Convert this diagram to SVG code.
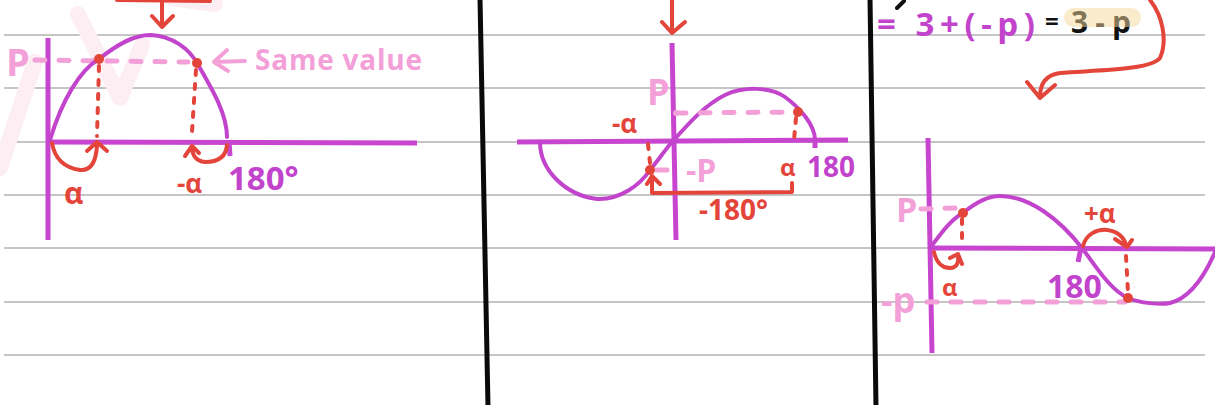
<svg xmlns="http://www.w3.org/2000/svg" width="1215" height="405" viewBox="0 0 1215 405">
<style>
.rule{stroke:#b3b3b3;stroke-width:1.5;fill:none}
.div{stroke:#0a0a0a;stroke-width:5;fill:none;stroke-linecap:round}
.ax{stroke:#c846cf;stroke-width:5;fill:none;stroke-linecap:butt}
.cv{stroke:#c244cc;stroke-width:4;fill:none;stroke-linecap:round;stroke-linejoin:round}
.red{stroke:#e4453a;stroke-width:4;fill:none;stroke-linecap:round;stroke-linejoin:round}
.rdot{stroke:#e4453a;stroke-width:4;fill:none;stroke-linecap:round;stroke-dasharray:5 9}
.pdash{stroke:#f4a0d8;stroke-width:5;fill:none;stroke-linecap:round;stroke-dasharray:10 14}
.pk{stroke:#f4a0d8;stroke-width:4;fill:none;stroke-linecap:round;stroke-linejoin:round}
.dot{fill:#e4453a}
text{font-family:"Open Sans","Liberation Sans",sans-serif;font-weight:700}
.tp{fill:#f4a0d8}
.tr{fill:#e4453a}
.tv{fill:#c244cc}
.tk{fill:#111111}
</style>

<g id="paper">
<path class="rule" d="M4 35H1205M4 88H1205M4 142H1205M4 195H1205M4 248H1205M4 302H1205M4 355H1205"/>
</g>

<g id="watermark">
<path d="M0 168L35 62M78 14L120 98L142 45M172 -2L215 4" stroke="#fdeef3" stroke-width="16" fill="none" stroke-linecap="round" stroke-linejoin="round"/>
</g>

<g id="dividers">
<path class="div" d="M480 -2L488 407"/>
<path class="div" d="M870 -2L876 407"/>
</g>

<g id="panel1">
<path class="red" d="M117 0L210 1" stroke-width="6"/>
<path class="red" d="M162 0L162 27M152 16L162 27L173 16"/>
<path class="ax" d="M48 38L48 240"/>
<path class="ax" d="M48 142L417 143"/>
<path class="ax" d="M229 140L230 156" stroke-width="4"/>
<path class="pdash" d="M35 60L188 62"/>
<path class="cv" d="M50 140C62 100 80 70 99 59C118 44 134 35 150 35C173 36 189 49 197 63C214 92 227 115 227 137"/>
<path class="rdot" d="M99 66L97 136"/>
<path class="rdot" d="M196 70L192 132"/>
<circle class="dot" cx="99" cy="59" r="5"/>
<circle class="dot" cx="197" cy="63" r="5"/>
<path class="red" d="M52 143C55 160 66 168 80 170C92 171 96 160 97 146M87 151L97 142L107 151"/>
<path class="red" d="M227 145C226 158 216 162 205 162C196 161 192 155 192 147M185 156L192 146L199 153"/>
<path class="pk" d="M245 61L214 62M227 50L214 62L228 71"/>
<text class="tp" x="6" y="76" font-size="38">P</text>
<text class="tp" x="255" y="70" font-size="28" textLength="167" lengthAdjust="spacing">Same value</text>
<text class="tr" x="64" y="204" font-size="30">α</text>
<text class="tr" x="177" y="193" font-size="26">-α</text>
<text class="tv" x="228" y="190" font-size="33">180°</text>
</g>

<g id="panel2">
<path class="red" d="M672 0L672 33M662 22L672 33L685 22"/>
<path class="ax" d="M672 43L676 240"/>
<path class="ax" d="M517 142L848 140"/>
<path class="ax" d="M815 138L815 148" stroke-width="4"/>
<path class="cv" d="M540 142C540 170 565 195 597 199C620 200 640 185 650 170C660 158 665 150 672 142C690 122 705 105 725 95C742 87 770 86 785 97C800 108 815 125 815 140"/>
<path class="pdash" d="M676 113L798 112"/>
<circle cx="676" cy="113" r="3" fill="#f4a0d8"/>
<path class="pdash" d="M657 170L672 170" stroke-dasharray="6 6"/>
<path class="rdot" d="M796 118L794 140"/>
<path class="rdot" d="M648 144L650 163"/>
<circle class="dot" cx="798" cy="112" r="5"/>
<circle class="dot" cx="650" cy="170" r="5"/>
<path class="red" d="M647 184L652 176L660 184M652 180L652 193L792 192L792 183"/>
<text class="tp" x="647" y="105" font-size="36">P</text>
<text class="tr" x="612" y="133" font-size="26">-α</text>
<text class="tp" x="686" y="182" font-size="32">-P</text>
<text class="tr" x="780" y="176" font-size="24">α</text>
<text class="tv" x="807" y="177" font-size="28">180</text>
<text class="tr" x="699" y="220" font-size="28">-180°</text>
</g>

<g id="panel3">
<path d="M897 8L904 1" stroke="#111" stroke-width="4" stroke-linecap="round"/>
<text class="tv" x="877" y="36" font-size="33" textLength="158" lengthAdjust="spacing">= 3+(-p)</text>
<text class="tk" x="1045" y="30" font-size="24">=</text>
<text class="tk" x="1071" y="33" font-size="30" textLength="60" lengthAdjust="spacing">3-p</text>
<rect x="1064" y="8" width="77" height="19" rx="9.5" fill="#f5d79c" opacity="0.5"/>
<path class="red" d="M1150 0C1162 15 1168 40 1160 58C1150 70 1100 70 1060 73C1045 75 1040 85 1040 97M1027 82L1040 98L1055 85"/>
<path class="ax" d="M928 138L932 353"/>
<path class="ax" d="M930 248L1215 249"/>
<path class="ax" d="M1081 248L1078 262" stroke-width="4"/>
<path class="cv" d="M930 248C940 235 950 220 963 213C975 203 988 196 1000 196C1030 196 1060 220 1082 248C1095 265 1110 290 1128 298C1140 303 1160 305 1170 303C1190 298 1205 275 1215 252"/>
<path class="pdash" d="M921 209L955 208" stroke-dasharray="8 8"/>
<path class="pdash" d="M927 302L1125 302" stroke-dasharray="9 24"/>
<path class="rdot" d="M962 219L962 245" stroke-dasharray="3 5"/>
<path class="rdot" d="M1126 256L1128 292" stroke-dasharray="7 8"/>
<circle class="dot" cx="963" cy="213" r="5"/>
<circle class="dot" cx="1128" cy="298" r="5"/>
<path class="red" d="M934 252C936 262 942 268 950 268C957 268 959 262 958 256M950 258L958 254L962 264"/>
<path class="red" d="M1083 246C1086 234 1097 229 1107 230C1117 231 1124 237 1126 245M1115 239L1127 247L1132 240"/>
<text class="tp" x="896" y="222" font-size="34">P</text>
<text class="tp" x="881" y="313" font-size="36">-p</text>
<text class="tr" x="942" y="296" font-size="24">α</text>
<text class="tv" x="1047" y="298" font-size="32">180</text>
<text class="tr" x="1084" y="223" font-size="26">+α</text>
</g>
</svg>
